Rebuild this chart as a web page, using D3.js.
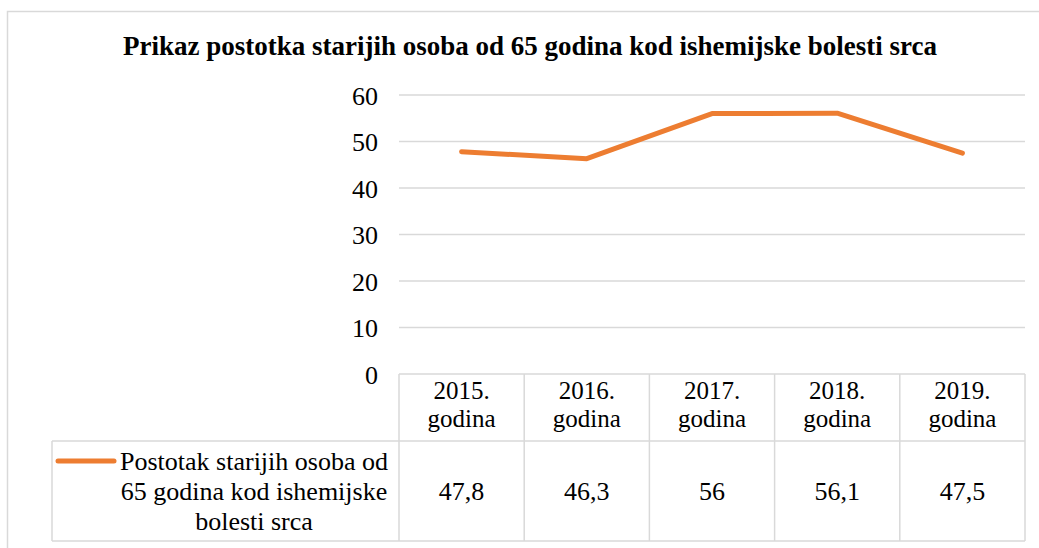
<!DOCTYPE html>
<html>
<head>
<meta charset="utf-8">
<script src="https://cdn.jsdelivr.net/npm/d3@7"></script>
<style>
  body { margin: 0; background: #fff; }
</style>
</head>
<body>
<div id="chart"></div>
<script>
// data
const title = 'Prikaz postotka starijih osoba od 65 godina kod ishemijske bolesti srca';
const years = ['2015.', '2016.', '2017.', '2018.', '2019.'];
const values = [47.8, 46.3, 56, 56.1, 47.5];
const valueLabels = ['47,8', '46,3', '56', '56,1', '47,5'];
const seriesName = ['Postotak starijih osoba od', '65 godina kod ishemijske', 'bolesti srca'];
const yTicks = [0, 10, 20, 30, 40, 50, 60];

const W = 1039, H = 548;
const orange = '#ED7D31';
const gridColor = '#d9d9d9';
const serif = '"Liberation Serif"';

const svg = d3.select('#chart').append('svg')
    .attr('width', W)
    .attr('height', H);

// outer chart border (runs off the right and bottom of the picture)
svg.append('rect')
    .attr('x', 7.5).attr('y', 11.5)
    .attr('width', 1060).attr('height', 560)
    .attr('fill', 'none')
    .attr('stroke', gridColor)
    .attr('stroke-width', 1.5);

svg.append('text')
    .attr('x', 530)
    .attr('y', 55)
    .attr('text-anchor', 'middle')
    .style('font-family', serif)
    .style('font-size', '27px')
    .style('font-weight', 'bold')
    .attr('fill', '#000')
    .text(title);

// scales
const x = d3.scaleBand()
    .domain(years)
    .range([399, 1025]);

const y = d3.scaleLinear()
    .domain([0, 60])
    .range([374, 95]);

// gridlines
svg.append('g')
    .selectAll('line')
    .data(yTicks.filter(d => d > 0))
    .enter()
    .append('line')
    .attr('x1', 399).attr('x2', 1025)
    .attr('y1', d => y(d)).attr('y2', d => y(d))
    .attr('stroke', gridColor)
    .attr('stroke-width', 1.5);

// y axis labels
const yAxis = svg.append('g')
    .attr('transform', 'translate(399,0)')
    .call(d3.axisLeft(y).tickValues(yTicks).tickSize(0).tickPadding(21));
yAxis.select('.domain').remove();
yAxis.selectAll('text')
    .style('font-family', serif)
    .style('font-size', '26px')
    .attr('dy', '0.36em')
    .attr('fill', '#000');

// data table grid
const tableTop = 374, rowMid = 441, tableBottom = 541, legendLeft = 52;
const tbl = svg.append('g')
    .attr('stroke', gridColor)
    .attr('stroke-width', 1.5);
tbl.append('line').attr('x1', 399).attr('x2', 1025).attr('y1', tableTop).attr('y2', tableTop);
tbl.append('line').attr('x1', legendLeft).attr('x2', 1025).attr('y1', rowMid).attr('y2', rowMid);
tbl.append('line').attr('x1', legendLeft).attr('x2', 1025).attr('y1', tableBottom).attr('y2', tableBottom);
tbl.append('line').attr('x1', legendLeft).attr('x2', legendLeft).attr('y1', rowMid).attr('y2', tableBottom);
const bounds = years.map(d => x(d)).concat([x.range()[1]]);
tbl.selectAll('.col')
    .data(bounds)
    .enter()
    .append('line')
    .attr('x1', d => d).attr('x2', d => d)
    .attr('y1', tableTop).attr('y2', tableBottom);

// header cells
const head = svg.append('g')
    .selectAll('text')
    .data(years)
    .enter()
    .append('text')
    .attr('x', d => x(d) + x.bandwidth() / 2)
    .attr('text-anchor', 'middle')
    .style('font-family', serif)
    .style('font-size', '25px');
head.append('tspan').attr('x', d => x(d) + x.bandwidth() / 2).attr('y', 399).text(d => d);
head.append('tspan').attr('x', d => x(d) + x.bandwidth() / 2).attr('y', 427).text('godina');

// value cells
svg.append('g')
    .selectAll('text')
    .data(valueLabels)
    .enter()
    .append('text')
    .attr('x', (d, i) => x(years[i]) + x.bandwidth() / 2)
    .attr('y', 500)
    .attr('text-anchor', 'middle')
    .style('font-family', serif)
    .style('font-size', '26px')
    .text(d => d);

// legend key + series name
svg.append('line')
    .attr('x1', 58).attr('x2', 114)
    .attr('y1', 461).attr('y2', 461)
    .attr('stroke', orange)
    .attr('stroke-width', 5)
    .attr('stroke-linecap', 'round');

svg.append('g')
    .selectAll('text')
    .data(seriesName)
    .enter()
    .append('text')
    .attr('x', 254)
    .attr('y', (d, i) => 470 + i * 30)
    .attr('text-anchor', 'middle')
    .style('font-family', serif)
    .style('font-size', '26px')
    .text(d => d);

// series line
const line = d3.line()
    .x((d, i) => x(years[i]) + x.bandwidth() / 2)
    .y(d => y(d));

svg.append('path')
    .datum(values)
    .attr('d', line)
    .attr('fill', 'none')
    .attr('stroke', orange)
    .attr('stroke-width', 5)
    .attr('stroke-linecap', 'round')
    .attr('stroke-linejoin', 'round');
</script>
</body>
</html>
